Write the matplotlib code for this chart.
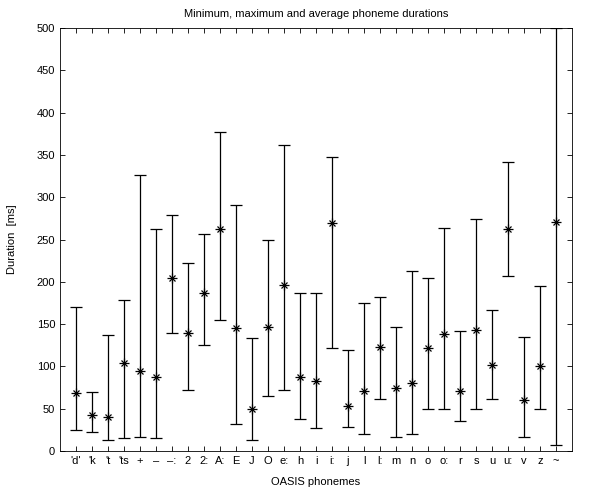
import numpy as np
import matplotlib
matplotlib.use("Agg")
import matplotlib.pyplot as plt

# phoneme labels and min / average / max durations in ms
phonemes = ["'d'", "'k", "'t", "'ts", "+", "\u2013", "\u2013:", "2", "2:", "A:",
            "E", "J", "O", "e:", "h", "i", "i:", "j", "l", "l:",
            "m", "n", "o", "o:", "r", "s", "u", "u:", "v", "z", "~"]
dur_min = [25, 22, 13, 15, 17, 15, 140, 72, 125, 155,
           32, 13, 65, 72, 38, 27, 122, 28, 20, 62,
           17, 20, 50, 50, 35, 50, 62, 207, 17, 50, 7]
dur_avg = [68, 42, 40, 104, 94, 87, 204, 139, 187, 263,
           145, 50, 147, 196, 87, 83, 270, 53, 71, 123,
           74, 80, 122, 138, 71, 143, 102, 262, 60, 101, 271]
dur_max = [170, 70, 137, 179, 326, 262, 279, 222, 257, 377,
           291, 133, 250, 362, 187, 187, 347, 119, 175, 182,
           147, 213, 205, 264, 142, 274, 167, 342, 135, 195, 500]

plt.rcParams['font.family'] = ['Liberation Sans', 'DejaVu Sans']
plt.rcParams['font.size'] = 8

x = np.arange(1, len(phonemes) + 1)
avg = np.array(dur_avg)
err = [avg - np.array(dur_min), np.array(dur_max) - avg]

fig = plt.figure(figsize=(5.89, 4.95), dpi=100)
ax = fig.add_axes([60/589, 44/495, 512/589, 423/495])

ax.errorbar(x, avg, yerr=err, fmt='none', ecolor='k', elinewidth=0.9,
            capsize=4.5, capthick=0.9)
# matlab style asterisk = plus + cross
ax.plot(x, avg, 'k+', ms=7, mew=0.9)
ax.plot(x, avg, 'kx', ms=5, mew=0.9)

ax.set_xlim(0, 32)
ax.set_ylim(0, 500)
ax.set_xticks(x)
ax.set_xticklabels(phonemes)
ax.set_yticks(np.arange(0, 501, 50))
ax.tick_params(direction='in', top=True, right=True, length=3.5, width=0.6)
for s in ax.spines.values():
    s.set_linewidth(0.6)

ax.set_title('Minimum, maximum and average phoneme durations', fontsize=8, pad=8)
ax.set_xlabel('OASIS phonemes', fontsize=8, labelpad=8)
ax.set_ylabel('Duration  [ms]', fontsize=8, labelpad=14)

fig.savefig('out.png', dpi=100)
